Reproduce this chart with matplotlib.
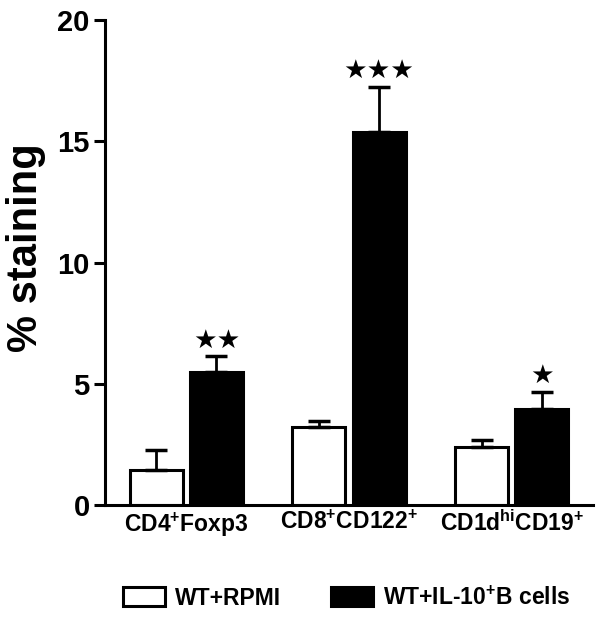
import matplotlib
matplotlib.use("Agg")
import matplotlib.pyplot as plt
import numpy as np
from matplotlib.patches import Patch

plt.rcParams['font.family'] = ['Liberation Sans', 'DejaVu Sans']
plt.rcParams['font.weight'] = 'bold'
plt.rcParams['mathtext.fontset'] = 'custom'
plt.rcParams['mathtext.rm'] = 'Liberation Sans:bold'
plt.rcParams['mathtext.bf'] = 'Liberation Sans:bold'
plt.rcParams['mathtext.default'] = 'rm'

categories = [r'CD4$^{+}$Foxp3', r'CD8$^{+}$CD122$^{+}$', r'CD1d$^{hi}$CD19$^{+}$']
series_names = ['WT+RPMI', r'WT+IL-10$^{+}$B cells']
rpmi_vals = [1.45, 3.2, 2.4]
rpmi_err = [0.82, 0.27, 0.26]
il10_vals = [5.5, 15.4, 3.95]
il10_err = [0.63, 1.85, 0.72]
stars = ['★★', '★★★', '★']
yticks = [0, 5, 10, 15, 20]

fig = plt.figure(figsize=(6.02, 6.17), dpi=100)
ax = fig.add_axes([105/602, 112/617, 488/602, 485/617])

x = np.arange(len(categories))
w = 0.325
off = 0.185
ax.bar(x - off, rpmi_vals, w, color='white', edgecolor='black', linewidth=2.2,
       yerr=[np.zeros(3), rpmi_err], error_kw=dict(ecolor='black', elinewidth=2, capsize=8, capthick=2.5),
       label=series_names[0], zorder=2)
ax.bar(x + off, il10_vals, w, color='black', edgecolor='black', linewidth=2.2,
       yerr=[np.zeros(3), il10_err], error_kw=dict(ecolor='black', elinewidth=2, capsize=8, capthick=2.5),
       label=series_names[1], zorder=2)

for xi, v, e, s in zip(x, il10_vals, il10_err, stars):
    ax.text(xi + off, v + e + 0.12, s, ha='center', va='bottom', fontsize=19,
            family='DejaVu Sans', color='black')

ax.set_xlim(-0.5, 2.5)
ax.set_ylim(0, 20)
ax.set_yticks(yticks)
ax.set_yticklabels([str(t) for t in yticks], fontsize=21, fontweight='bold')
ax.set_xticks(x)
ax.set_xticklabels(categories, fontsize=16.5, fontweight='bold')
ax.tick_params(axis='x', length=0, pad=4)
ax.tick_params(axis='y', length=8, width=2.2, pad=3)
for sp in ['top', 'right']:
    ax.spines[sp].set_visible(False)
for sp in ['left', 'bottom']:
    ax.spines[sp].set_linewidth(2.2)
ax.set_ylabel('% staining', fontsize=30, fontweight='bold')
ax.yaxis.set_label_coords(-0.12, 0.53)

handles = [Patch(facecolor='white', edgecolor='black', linewidth=2.2),
           Patch(facecolor='black', edgecolor='black', linewidth=2.2)]
fig.legend(handles, series_names, loc='center', bbox_to_anchor=(0.576, 0.031), ncol=2,
           frameon=False, prop={'weight': 'bold', 'size': 16.5},
           handlelength=1.83, handleheight=0.87, columnspacing=2.2, handletextpad=0.44)

fig.savefig('out.png', dpi=100)
